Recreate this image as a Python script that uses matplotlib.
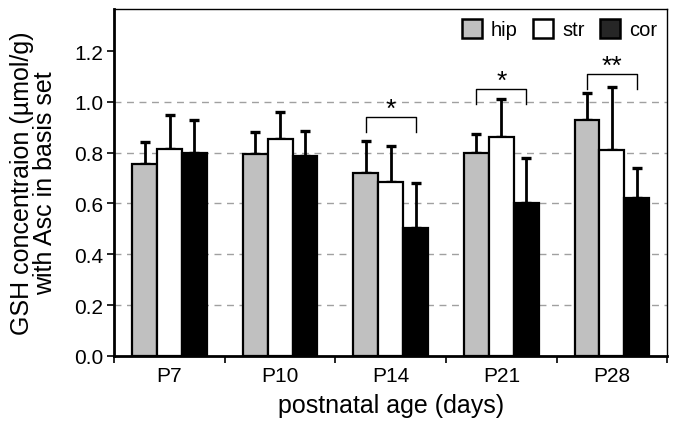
import matplotlib
matplotlib.use("Agg")
import matplotlib.pyplot as plt
import numpy as np

plt.rcParams["font.family"] = ["Liberation Sans", "DejaVu Sans"]

ages = ["P7", "P10", "P14", "P21", "P28"]
regions = ["hip", "str", "cor"]
hip = [0.755, 0.795, 0.72, 0.80, 0.93]
hip_err = [0.085, 0.085, 0.125, 0.075, 0.105]
strm = [0.815, 0.855, 0.685, 0.86, 0.81]
str_err = [0.135, 0.105, 0.14, 0.15, 0.25]
cor = [0.80, 0.785, 0.505, 0.60, 0.62]
cor_err = [0.13, 0.10, 0.175, 0.18, 0.12]

# significance brackets: group index, bracket top, label
sig_groups = [2, 3, 4]
sig_tops = [0.94, 1.05, 1.11]
sig_labels = ["*", "*", "**"]

colors = ["#c0c0c0", "white", "black"]
fig, ax = plt.subplots(figsize=(6.76, 4.27), dpi=100)
fig.subplots_adjust(left=0.169, right=0.987, bottom=0.164, top=0.977)

x = np.arange(len(ages))
w = 0.225
for val in [0.2, 0.4, 0.6, 0.8, 1.0]:
    ax.axhline(val, color="#a0a0a0", lw=1.0, ls=(0, (5, 4)), zorder=0)

series = [(hip, hip_err), (strm, str_err), (cor, cor_err)]
for i, (vals, errs) in enumerate(series):
    xs = x + (i - 1) * w
    ax.bar(xs, vals, w, color=colors[i], edgecolor="black", lw=1.6,
           label=regions[i], zorder=2)
    ax.errorbar(xs, vals, yerr=[np.zeros(len(errs)), errs], fmt="none",
                ecolor="black", elinewidth=2.0, capsize=3.3, capthick=2.4, zorder=1)

for g, top, lab in zip(sig_groups, sig_tops, sig_labels):
    x0, x1 = g - w, g + w
    ax.plot([x0, x0, x1, x1], [top - 0.06, top, top, top - 0.06],
            color="black", lw=1.0, zorder=3)
    ax.text(g, top + 0.005, lab, ha="center", va="baseline", fontsize=19)

ax.set_xlim(-0.5, len(ages) - 0.5)
ax.set_ylim(0, 1.366)
ax.set_yticks(np.arange(0, 1.21, 0.2))
ax.set_yticklabels([f"{v:.1f}" for v in np.arange(0, 1.21, 0.2)])
ax.set_xticks(x)
ax.set_xticklabels(ages)
ax.set_xticks(np.arange(-0.5, len(ages), 1.0), minor=True)
ax.tick_params(axis="x", which="major", length=0, labelsize=15, pad=7)
ax.tick_params(axis="x", which="minor", length=5, width=1.2)
ax.tick_params(axis="y", length=5, width=1.2, labelsize=15, pad=3)
for s in ["left", "bottom"]:
    ax.spines[s].set_linewidth(2)
for s in ["top", "right"]:
    ax.spines[s].set_linewidth(1.0)

ax.set_ylabel("GSH concentraion (µmol/g)\nwith Asc in basis set", fontsize=18,
              linespacing=0.95, labelpad=12)
ax.set_xlabel("postnatal age (days)", fontsize=18, labelpad=6)

leg = ax.legend(loc="upper right", ncol=3, frameon=False, fontsize=14.5,
                handlelength=1.0, handleheight=1.1, handletextpad=0.45,
                columnspacing=0.75, borderaxespad=0.3, borderpad=0.2)
for h in leg.legend_handles:
    h.set_linewidth(1.8)
leg.legend_handles[2].set_facecolor("#262626")

fig.savefig("out.png", dpi=100)
